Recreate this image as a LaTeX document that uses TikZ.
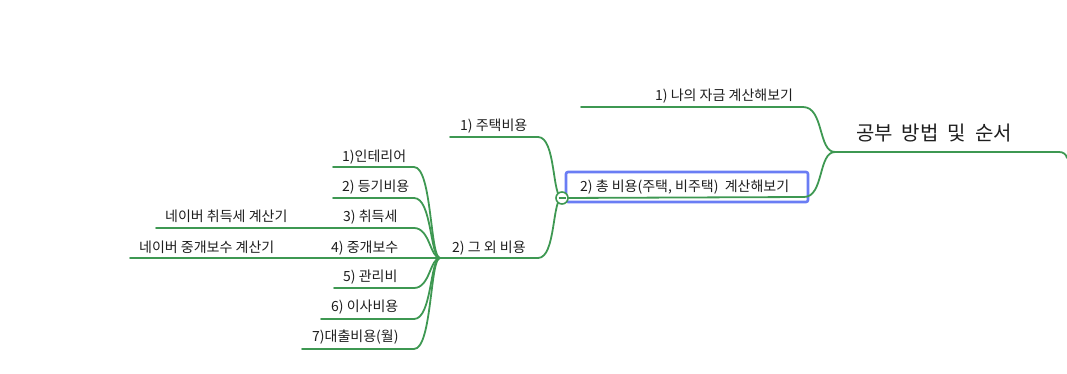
\documentclass[tikz,border=0pt]{standalone}
\usepackage{fontspec}
\usepackage{xcolor}
\usepackage{tikz}
\usetikzlibrary{positioning,calc}
\newfontfamily\krfont{Noto Sans CJK KR}
\definecolor{mapGreen}{HTML}{3E9852}
\definecolor{mapBlue}{HTML}{6A7DF4}
\definecolor{mapText}{HTML}{1E1E1E}
\tikzset{
  tema/.style={anchor=base west, inner sep=0pt, text=mapText, font=\krfont\fontsize{14}{16}\selectfont},
  temaraiz/.style={anchor=base west, inner sep=0pt, text=mapText, font=\krfont\fontsize{20}{23}\selectfont},
  rama/.style={draw=mapGreen, line width=1.8pt, line cap=round},
  seleccion/.style={draw=mapBlue, line width=2.6pt, rounded corners=2pt},
  plegar/.style={circle, draw=mapGreen, line width=1.6pt, fill=white, minimum size=12pt, inner sep=0pt},
}
\begin{document}
\begin{tikzpicture}[x=1pt,y=-1pt]
\useasboundingbox (0,0) rectangle (1067,374);
% raiz
\node[temaraiz] (raiz) at (856,141) {공부\ \ 방법\ \ 및\ \ 순서};
\coordinate (jRaiz) at (835,152);
\coordinate (finRaiz) at (1067,158);
\draw[rama] (jRaiz) -- (1059,152) .. controls (1063,152) and (1066,154) .. (finRaiz);
% primer nivel
\node[tema] (fondos) at (655,101) {1) 나의 자금 계산해보기};
\coordinate (fondosL) at (581,107);
\draw[rama] (fondosL) -- (803,107) .. controls (824,107) and (818,152) .. (jRaiz);
\node[tema] (total) at (580,192) {2) 총 비용(주택, 비주택)\ \ 계산해보기};
\draw[seleccion] (566,172) rectangle (808,202);
\coordinate (jTotal) at (562,198);
\draw[rama] (jTotal) -- (804,197) .. controls (824,197) and (818,152) .. (jRaiz);
% segundo nivel
\node[tema] (vivienda) at (460,131) {1) 주택비용};
\coordinate (viviendaL) at (450,137);
\draw[rama] (viviendaL) -- (538,137) .. controls (556,137) and (552,198) .. (jTotal);
\node[tema] (otros) at (452,252) {2) 그 외 비용};
\coordinate (jOtros) at (440,258);
\draw[rama] (jOtros) -- (538,258) .. controls (556,258) and (552,198) .. (jTotal);
% tercer nivel
\node[tema] (interior) at (342,161) {1)인테리어};
\coordinate (interiorL) at (333,167);
\draw[rama] (interiorL) -- (414,167) .. controls (432,167) and (430,258) .. (jOtros);
\node[tema] (registro) at (342,191) {2) 등기비용};
\coordinate (registroL) at (333,198);
\draw[rama] (registroL) -- (414,198) .. controls (432,198) and (430,258) .. (jOtros);
\node[tema] (impuesto) at (343,221) {3) 취득세};
\node[tema] (calcImp) at (165,221) {네이버 취득세 계산기};
\coordinate (calcImpL) at (156,228);
\draw[rama] (calcImpL) -- (414,228) .. controls (430,228) and (430,258) .. (jOtros);
\node[tema] (corretaje) at (331,252) {4) 중개보수};
\node[tema] (calcCor) at (139,252) {네이버 중개보수 계산기};
\coordinate (calcCorL) at (130,258);
\draw[rama] (calcCorL) -- (jOtros);
\node[tema] (gestion) at (343,281) {5) 관리비};
\coordinate (gestionL) at (334,288);
\draw[rama] (gestionL) -- (414,288) .. controls (430,288) and (430,258) .. (jOtros);
\node[tema] (mudanza) at (331,311) {6) 이사비용};
\coordinate (mudanzaL) at (321,319);
\draw[rama] (mudanzaL) -- (414,319) .. controls (432,319) and (430,258) .. (jOtros);
\node[tema] (prestamo) at (312,341) {7)대출비용(월)};
\coordinate (prestamoL) at (302,349);
\draw[rama] (prestamoL) -- (414,349) .. controls (432,349) and (430,258) .. (jOtros);
% boton de plegar
\node[plegar] (boton) at (jTotal) {};
\draw[draw=mapGreen, line width=1.6pt] ($(boton.center)+(-3.5,0)$) -- ($(boton.center)+(3.5,0)$);
\end{tikzpicture}
\end{document}
